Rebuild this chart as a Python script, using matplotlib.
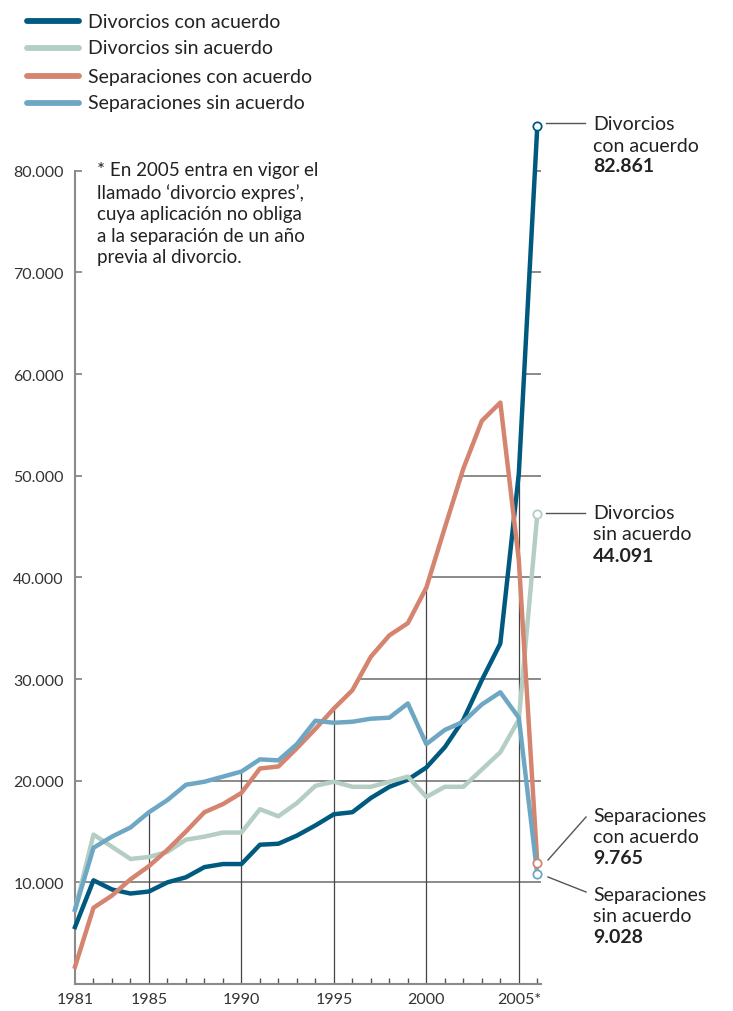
import numpy as np
import matplotlib.pyplot as plt
from matplotlib.lines import Line2D
from matplotlib.patches import Polygon

plt.rcParams['font.family'] = ['Lato', 'DejaVu Sans']

# data (1981 - 2006)
years = list(range(1981, 2007))
div_con = [5600, 10200, 9300, 8900, 9100, 10000, 10500, 11500, 11800, 11800,
           13700, 13800, 14600, 15600, 16700, 16900, 18300, 19400, 20100, 21300,
           23300, 26000, 29900, 33500, 50200, 84400]
div_sin = [7300, 14700, 13500, 12300, 12500, 13000, 14200, 14500, 14900, 14900,
           17200, 16500, 17800, 19500, 19900, 19400, 19400, 19900, 20400, 18400,
           19400, 19400, 21100, 22800, 26000, 46200]
sep_con = [1700, 7500, 8700, 10300, 11600, 13200, 15000, 16900, 17700, 18800,
           21200, 21400, 23200, 25100, 27100, 28900, 32200, 34300, 35500, 39000,
           44900, 50700, 55400, 57200, 41700, 11900]
sep_sin = [7300, 13400, 14500, 15400, 16900, 18100, 19600, 19900, 20400, 20900,
           22100, 22000, 23600, 25900, 25700, 25800, 26100, 26200, 27600, 23600,
           25000, 25800, 27500, 28700, 26200, 10800]

names = ['Divorcios con acuerdo', 'Divorcios sin acuerdo',
         'Separaciones con acuerdo', 'Separaciones sin acuerdo']
colors = ['#005a7f', '#b4cec3', '#d4846f', '#6ea7c3']
series = [div_con, div_sin, sep_con, sep_sin]

yticks = [10000, 20000, 30000, 40000, 50000, 60000, 70000, 80000]
ylabels = ['10.000', '20.000', '30.000', '40.000', '50.000', '60.000', '70.000', '80.000']
xticks = [1981, 1985, 1990, 1995, 2000, 2005]
xlabels = ['1981', '1985', '1990', '1995', '2000', '2005*']

W, H = 733, 1012
fig = plt.figure(figsize=(W / 100, H / 100), dpi=100)

def fx(px):
    return px / W

def fy(py):
    return 1 - py / H

# 1981 at x=75, 2006 at x=537, axis runs a bit past
x0, x1 = 1981, 2006.2
ax = fig.add_axes([fx(75), fy(985), fx(541) - fx(75), fy(121) - fy(985)])
ax.set_xlim(x0, x1)
ax.set_ylim(0, 85000)

# gridlines only under the highest curve
xs = np.linspace(1981, 2006, 3000)
env = np.max([np.interp(xs, years, s) for s in series], axis=0)
verts = list(zip(xs, env)) + [(x1, env[-1]), (x1, 0), (1981, 0)]
clip = Polygon(verts, closed=True, transform=ax.transData, facecolor='none', edgecolor='none')
ax.add_patch(clip)

for v in yticks:
    ln, = ax.plot([1981, x1], [v, v], color='#8a8a8a', lw=1.4, zorder=1)
    ln.set_clip_path(clip)
for v in xticks[1:]:
    ln, = ax.plot([v, v], [0, 85000], color='#444444', lw=0.9, zorder=1)
    ln.set_clip_path(clip)

for s, c in zip(series, colors):
    ax.plot(years, s, color=c, lw=3.2, solid_joinstyle='round', zorder=3, clip_on=False)
for s, c in zip(series, colors):
    ax.plot(years[-1], s[-1], 'o', ms=6, mfc='white', mec=c, mew=1.3, zorder=4, clip_on=False)

for sp in ['top', 'right']:
    ax.spines[sp].set_visible(False)
ax.spines['left'].set_bounds(0, 80000)
for sp in ['left', 'bottom']:
    ax.spines[sp].set_color('#8a8a8a')
    ax.spines[sp].set_linewidth(1.5)

ax.set_yticks(yticks)
ax.set_yticklabels(ylabels)
ax.tick_params(axis='y', direction='in', length=5, width=1.3, color='#8a8a8a',
               labelsize=11.5, labelcolor='#333333', pad=8)
ax.set_xticks(xticks)
ax.set_xticklabels(xlabels)
ax.set_xticks(years, minor=True)
ax.tick_params(axis='x', which='major', length=0, labelsize=11.5, labelcolor='#333333', pad=6)
ax.tick_params(axis='x', which='minor', direction='in', length=4, width=1.0, color='#555555')

# legend
leg_y = [22, 49, 77, 104]
for n, c, yy in zip(names, colors, leg_y):
    fig.add_artist(Line2D([fx(27), fx(79)], [fy(yy), fy(yy)], color=c, lw=4.2,
                          solid_capstyle='round', transform=fig.transFigure))
    fig.text(fx(88), fy(yy), n, fontsize=14, color='#222222', va='center')

# note
fig.text(fx(97), fy(162), "* En 2005 entra en vigor el\nllamado \u2018divorcio expres\u2019,\n"
         "cuya aplicación no obliga\na la separación de un año\nprevia al divorcio.",
         fontsize=13.5, color='#222222', va='top', linespacing=1.32)

# end labels
labels = [
    (125, 'Divorcios\ncon acuerdo', '82.861', (546, 124), (585, 124)),
    (514, 'Divorcios\nsin acuerdo', '44.091', (546, 514), (585, 514)),
    (817, 'Separaciones\ncon acuerdo', '9.765', (548, 861), (586, 818)),
    (896, 'Separaciones\nsin acuerdo', '9.028', (548, 878), (586, 893)),
]
for yt, txt, val, p0, p1 in labels:
    fig.add_artist(Line2D([fx(p0[0]), fx(p1[0])], [fy(p0[1]), fy(p1[1])], color='#555555',
                          lw=1.0, transform=fig.transFigure))
    l1, l2 = txt.split('\n')
    fig.text(fx(593), fy(yt), l1, fontsize=14, color='#222222', va='center')
    fig.text(fx(593), fy(yt + 21), l2, fontsize=14, color='#222222', va='center')
    fig.text(fx(593), fy(yt + 42), val, fontsize=14, color='#222222', va='center', fontweight='bold')

fig.savefig('out.png', dpi=100)
